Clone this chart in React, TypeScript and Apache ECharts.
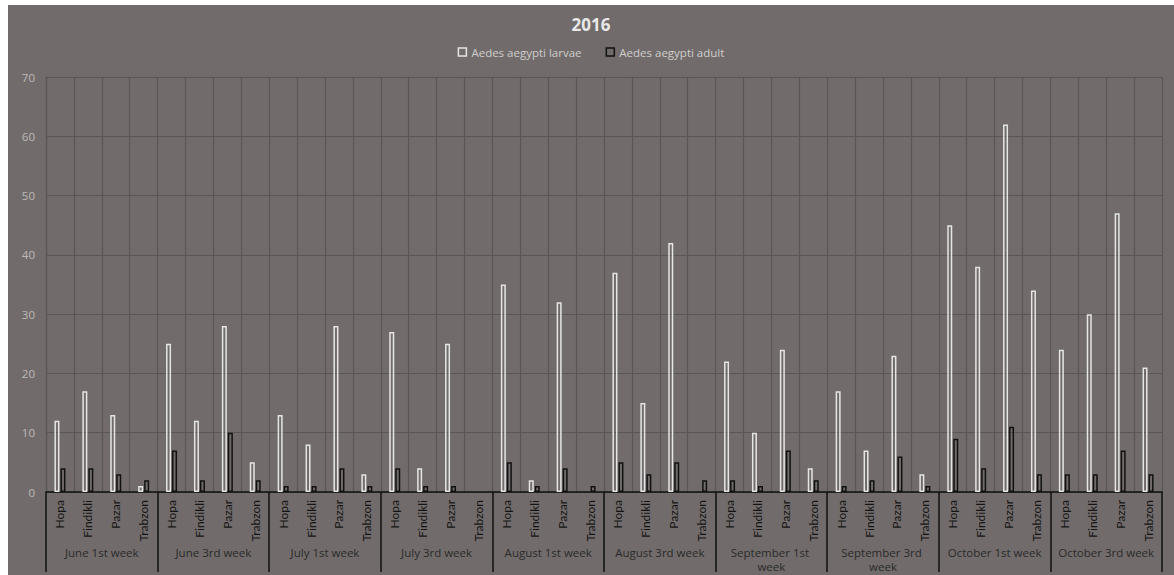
import React, { useEffect, useRef } from "react";
import * as echarts from "echarts";

const cities = ["Hopa", "Findikli", "Pazar", "Trabzon"];
const weeks = [
  "June 1st week",
  "June 3rd week",
  "July 1st week",
  "July 3rd week",
  "August 1st week",
  "August 3rd week",
  "September 1st week",
  "September 3rd week",
  "October 1st week",
  "October 3rd week",
];
const larvae = [
  12, 17, 13, 1,
  25, 12, 28, 5,
  13, 8, 28, 3,
  27, 4, 25, 0,
  35, 2, 32, 0,
  37, 15, 42, 0,
  22, 10, 24, 4,
  17, 7, 23, 3,
  45, 38, 62, 34,
  24, 30, 47, 21,
];
const adult = [
  4, 4, 3, 2,
  7, 2, 10, 2,
  1, 1, 4, 1,
  4, 1, 1, 0,
  5, 1, 4, 1,
  5, 3, 5, 2,
  2, 1, 7, 2,
  1, 2, 6, 1,
  9, 4, 11, 3,
  3, 3, 7, 3,
];
const yTicks = { min: 0, max: 70, interval: 10 };

const categories: string[] = [];
weeks.forEach(() => cities.forEach((c) => categories.push(c)));

// zero values are not drawn in the original
const hideZero = (arr: number[]) => arr.map((v) => (v === 0 ? null : v));

export default function App() {
  const ref = useRef<HTMLDivElement>(null);
  useEffect(() => {
    if (!ref.current) return;
    const chart = echarts.init(ref.current, null, { renderer: "svg" });
    const font = "'Open Sans', Lato, sans-serif";
    const narrow = "Lato, 'Open Sans', sans-serif";
    chart.setOption({
      animation: false,
      backgroundColor: "#716c6b",
      textStyle: { fontFamily: font },
      title: {
        text: "2016",
        left: "center",
        top: 11,
        padding: 0,
        textStyle: { color: "#e8e8e8", fontSize: 17, fontWeight: "bold", fontFamily: font },
      },
      legend: {
        top: 41,
        left: "center",
        padding: 0,
        itemGap: 24,
        itemWidth: 8,
        itemHeight: 8,
        icon: "rect",
        textStyle: { color: "#cfcccb", fontSize: 11.5, fontFamily: font },
        data: [
          { name: "Aedes aegypti larvae", itemStyle: { color: "rgba(0,0,0,0)", borderColor: "#e5e5e5", borderWidth: 1.5 } },
          { name: "Aedes aegypti adult", itemStyle: { color: "rgba(0,0,0,0)", borderColor: "#111111", borderWidth: 1.5 } },
        ],
      },
      grid: { left: 38, right: 12, top: 72, bottom: 83, containLabel: false },
      xAxis: [
        {
          type: "category",
          data: categories,
          position: "bottom",
          axisLine: { show: true, lineStyle: { color: "#111111", width: 1.5 } },
          axisTick: { show: false },
          splitLine: { show: true, interval: 0, lineStyle: { color: "#5a5655", width: 1.2 } },
          axisLabel: {
            interval: 0,
            rotate: 90,
            margin: 8,
            fontSize: 12,
            color: "#151515",
            fontFamily: narrow,
          },
        },
        {
          type: "category",
          data: weeks,
          position: "bottom",
          axisLine: { show: false },
          axisTick: { show: true, interval: 0, length: 80, lineStyle: { color: "#111111", width: 1.5 } },
          splitLine: { show: false },
          axisLabel: {
            interval: 0,
            margin: 53,
            fontSize: 11.5,
            color: "#2a2a2a",
            width: 104,
            overflow: "break",
            lineHeight: 14,
            fontFamily: font,
          },
        },
      ],
      yAxis: {
        type: "value",
        min: yTicks.min,
        max: yTicks.max,
        interval: yTicks.interval,
        axisLine: { show: true, lineStyle: { color: "#5a5655", width: 1.2 } },
        axisTick: { show: false },
        splitLine: { show: true, lineStyle: { color: "#5a5655", width: 1.2 } },
        axisLabel: { color: "#bdb9b8", fontSize: 11.5, margin: 11, fontFamily: font },
      },
      series: [
        {
          name: "Aedes aegypti larvae",
          type: "bar",
          xAxisIndex: 0,
          data: hideZero(larvae),
          barWidth: 5,
          barGap: "20%",
          itemStyle: { color: "rgba(0,0,0,0)", borderColor: "#e5e5e5", borderWidth: 1.5 },
        },
        {
          name: "Aedes aegypti adult",
          type: "bar",
          xAxisIndex: 0,
          data: hideZero(adult),
          barWidth: 5,
          barGap: "20%",
          itemStyle: { color: "rgba(0,0,0,0)", borderColor: "#111111", borderWidth: 1.5 },
        },
      ],
    });
    return () => chart.dispose();
  }, []);
  return (
    <div
      ref={ref}
      style={{ position: "absolute", left: 8, top: 5, width: 1166, height: 570 }}
    />
  );
}
